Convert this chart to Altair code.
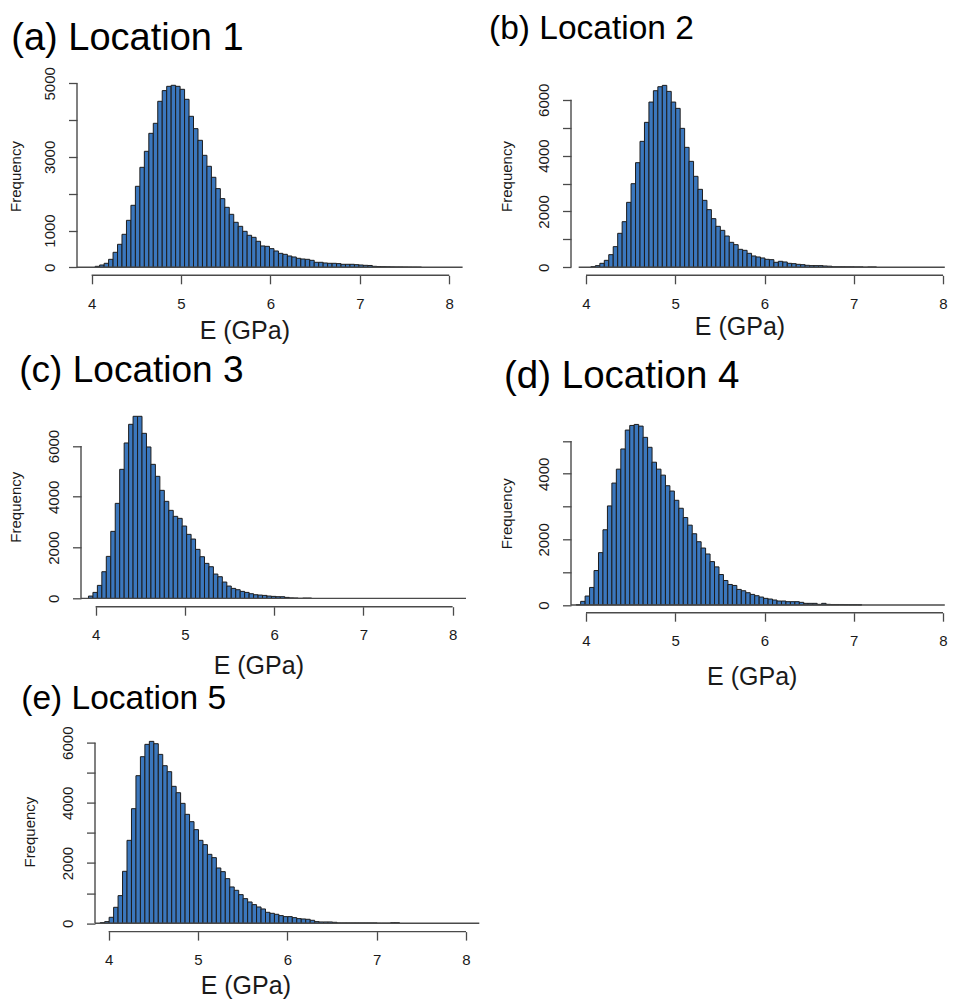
import altair as alt
import pandas as pd

FONT = "Liberation Sans"
BAR = "#3b77bd"
EDGE = "#1c1c1c"
AXC = "#4a4a4a"
TXT = "#1a1a1a"

BIN_W = 0.05
X_TICKS = [4, 5, 6, 7, 8]

titles = ["(a) Location 1", "(b) Location 2", "(c) Location 3", "(d) Location 4", "(e) Location 5"]
bin_starts = [4.04, 4.055, 3.92, 3.89, 3.906]

counts_1 = [27, 63, 109, 217, 408, 625, 897, 1277, 1685, 2201, 2717, 3152, 3641, 3913, 4511,
            4801, 4918, 4946, 4918, 4837, 4565, 4103, 3768, 3451, 3043, 2745, 2446, 2138, 1866,
            1630, 1440, 1223, 1114, 978, 870, 815, 707, 580, 570, 507, 444, 380, 353, 308, 281,
            245, 226, 217, 190, 136, 136, 118, 109, 109, 100, 82, 82, 82, 72, 63, 54, 50, 27, 20,
            18, 15, 12, 10, 10, 8, 6, 5, 4]
counts_2 = [24, 60, 143, 250, 453, 740, 1217, 1634, 2326, 2994, 3746, 4510, 5190, 5917, 6323,
            6466, 6514, 6299, 5917, 5691, 4975, 4295, 3794, 3257, 2792, 2398, 2064, 1742, 1467,
            1324, 1121, 895, 811, 644, 608, 501, 406, 370, 334, 286, 274, 179, 215, 191, 143, 131,
            107, 95, 72, 60, 60, 60, 48, 40, 20, 20, 20, 18, 18, 15, 15, 0, 12, 12]
counts_3 = [92, 236, 512, 1050, 1654, 2639, 3742, 5081, 6119, 6854, 7169, 7169, 6499, 5961, 5278,
            4806, 4254, 3821, 3466, 3230, 3151, 2849, 2521, 2337, 1930, 1641, 1379, 1247, 958, 853,
            643, 486, 394, 341, 276, 236, 184, 144, 131, 118, 92, 79, 66, 66, 39, 20, 15, 0, 12, 12]
counts_4 = [10, 111, 273, 535, 1050, 1596, 2293, 3020, 3717, 4141, 4757, 5333, 5474, 5505, 5454,
            5111, 4808, 4353, 4141, 3959, 3636, 3474, 3192, 2949, 2666, 2434, 2172, 1929, 1737,
            1555, 1323, 1162, 929, 747, 626, 596, 475, 434, 374, 323, 283, 242, 202, 182, 152, 121,
            121, 101, 101, 101, 81, 50, 50, 50, 20, 50, 20, 15, 15, 15, 12, 10, 10, 8]
counts_5 = [22, 55, 199, 531, 919, 1727, 2756, 3808, 4904, 5535, 5945, 6044, 5967, 5612, 5236,
            5037, 4550, 4339, 3985, 3620, 3376, 3111, 2756, 2613, 2291, 2181, 1838, 1716, 1483,
            1207, 1096, 952, 819, 708, 620, 542, 476, 365, 332, 299, 255, 221, 221, 188, 155, 144,
            133, 100, 55, 44, 44, 44, 33, 12, 12, 12, 12, 12, 12, 12, 12, 12, 0, 0, 0, 20, 20]
all_counts = [counts_1, counts_2, counts_3, counts_4, counts_5]

y_ticks = [
    [0, 1000, 2000, 3000, 4000, 5000],
    [0, 1000, 2000, 3000, 4000, 5000, 6000],
    [0, 2000, 4000, 6000],
    [0, 1000, 2000, 3000, 4000, 5000],
    [0, 1000, 2000, 3000, 4000, 5000, 6000],
]
y_labels = [
    [0, 1000, 3000, 5000],
    [0, 2000, 4000, 6000],
    [0, 2000, 4000, 6000],
    [0, 2000, 4000],
    [0, 2000, 4000, 6000],
]
x_domains = [[3.8367, 8.1499], [3.8319, 8.02], [3.7916, 8.1501], [3.8319, 8.02], [3.6463, 8.1488]]
y_domains = [[-217, 5144], [-286, 6778], [-327, 7917], [-235, 6332], [-276, 6269]]

# layout / style (pixels)
layout = [
    dict(W=385.6, H=197.3, off=0, bstart=None, fX=-62, fY=98, eX=167.3, eY=63.4, tdx=-65.7, tdy=21.1, ts=38),
    dict(W=373.8, H=197.3, off=0, bstart=3.918, fX=-65, fY=98, eX=168.5, eY=59, tdx=-82, tdy=-6.0, ts=33.5),
    dict(W=389.0, H=209.4, off=-4, bstart=None, fX=-65.7, fY=109.4, eX=181.3, eY=67, tdx=-57.7, tdy=21.4, ts=37),
    dict(W=373.8, H=215.4, off=0, bstart=None, fX=-65, fY=116, eX=180.7, eY=71.7, tdx=-67, tdy=28.9, ts=38.5),
    dict(W=402.3, H=197.0, off=-18, bstart=None, fX=-65.7, fY=97, eX=168.3, eY=62, tdx=-55.7, tdy=16.5, ts=33.5),
]


def panel(i):
    L = layout[i]
    cnt = all_counts[i]
    x0 = [bin_starts[i] + j * BIN_W for j in range(len(cnt))]
    df = pd.DataFrame({"x0": x0, "x1": [v + BIN_W for v in x0], "count": cnt})
    xa, xb = x_domains[i]
    ymin, ymax = y_domains[i]
    k = L["W"] / (xb - xa)
    axis_x = xa - L["off"] / k
    bstart = L["bstart"] if L["bstart"] is not None else axis_x

    sx = alt.Scale(domain=[xa, xb], nice=False, zero=False)
    sy = alt.Scale(domain=[ymin, ymax], nice=False, zero=False)

    xaxis = alt.Axis(values=X_TICKS, format="d", domain=False, grid=False,
                     tickSize=8.5, tickWidth=1.3, tickColor=AXC,
                     labelFont=FONT, labelFontSize=15, labelColor=TXT, labelPadding=19.8,
                     labelBaseline="middle", labelAlign="center", labelFlush=False, labelOverlap=False,
                     title="E (GPa)", titleFont=FONT, titleFontSize=25, titleFontWeight="normal",
                     titleColor=TXT, titleX=L["eX"], titleY=L["eY"], titleAlign="center",
                     titleBaseline="alphabetic")
    lab = "[" + ",".join(str(v) for v in y_labels[i]) + "]"
    yaxis = alt.Axis(values=y_ticks[i], format="d", domain=False, grid=False,
                     labelExpr=f"indexof({lab}, datum.value) >= 0 ? datum.label : ''",
                     tickSize=8.5, tickWidth=1.3, tickColor=AXC, offset=L["off"],
                     labelFont=FONT, labelFontSize=15, labelColor=TXT, labelPadding=19.5,
                     labelAngle=270, labelAlign="center", labelBaseline="middle",
                     labelFlush=False, labelOverlap=False,
                     title="Frequency", titleFont=FONT, titleFontSize=15, titleFontWeight="normal",
                     titleColor=TXT, titleAngle=270, titleX=L["fX"], titleY=L["fY"],
                     titleAlign="center", titleBaseline="middle")

    bars = alt.Chart(df).mark_rect(fill=BAR, stroke=EDGE, strokeWidth=1).encode(
        x=alt.X("x0:Q", scale=sx, axis=xaxis),
        x2="x1:Q",
        y=alt.Y("count:Q", scale=sy, axis=yaxis),
        y2=alt.datum(0),
    )
    rdf = pd.DataFrame({
        "xa": [bstart, X_TICKS[0], axis_x],
        "xb": [xb, X_TICKS[-1], axis_x],
        "ya": [0, ymin, 0],
        "yb": [0, ymin, y_ticks[i][-1]],
    })
    rules = alt.Chart(rdf).mark_rule(color=AXC, strokeWidth=1.4).encode(
        x=alt.X("xa:Q", scale=sx, axis=xaxis),
        x2="xb:Q",
        y=alt.Y("ya:Q", scale=sy, axis=yaxis),
        y2="yb:Q",
    )
    return alt.layer(bars, rules).properties(
        width=L["W"], height=L["H"],
        title=alt.TitleParams(titles[i], anchor="start", frame="group", font=FONT,
                              fontSize=L["ts"], fontWeight="normal", color="#000000",
                              baseline="alphabetic", offset=0, dx=L["tdx"], dy=L["tdy"]),
    )


chart = alt.concat(*[panel(i) for i in range(5)], columns=2,
                   spacing={"row": 121.3, "column": 91}, bounds="flush", align="each").properties(
    padding={"top": 3, "left": 0, "right": 0, "bottom": 0}, background="white"
).configure_view(stroke=None).configure_axis(
    labelFontSize=15, labelFont=FONT, labelColor=TXT,
    titleFont=FONT, titleFontWeight="normal", titleColor=TXT,
    tickColor=AXC, tickWidth=1.3, tickSize=8.5, grid=False, domain=False,
)

chart.save("out.html", embed_options={"renderer": "svg", "actions": False})
